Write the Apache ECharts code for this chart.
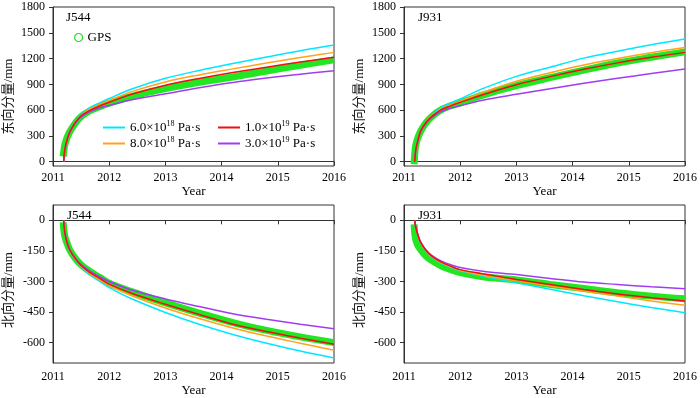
<!DOCTYPE html>
<html><head><meta charset="utf-8">
<script src="https://cdn.jsdelivr.net/npm/echarts@6/dist/echarts.min.js"></script>
<style>html,body{margin:0;padding:0;background:#fff}#c{width:700px;height:398px}</style>
</head><body><div id="c"></div><script>
// ---- data ----
const years = [2011, 2012, 2013, 2014, 2015, 2016];
const eastTicks = [0, 300, 600, 900, 1200, 1500, 1800];
const northTicks = [0, -150, -300, -450, -600];
const stations = ['J544', 'J931'];
const modelNames = ['6.0×10^18 Pa·s', '8.0×10^18 Pa·s', '1.0×10^19 Pa·s', '3.0×10^19 Pa·s'];

const modelTimes = [2011.19, 2011.21, 2011.25, 2011.3, 2011.4, 2011.5, 2011.65, 2011.83, 2012.0, 2012.4, 2013.0, 2013.6, 2014.2, 2014.8, 2015.4, 2016.0];
const gpsTimes = [2011.18, 2011.19, 2011.2, 2011.21, 2011.23, 2011.25, 2011.3, 2011.4, 2011.5, 2011.65, 2011.83, 2012.0, 2012.4, 2013.0, 2013.6, 2014.2, 2014.8, 2015.4, 2016.0];

// J544 east
const j544E_gps    = [60, 110, 160, 195, 240, 280, 350, 450, 525, 590, 640, 680, 760, 850, 925, 985, 1055, 1122, 1185];
const j544E_6e18   = [0, 142, 258, 355, 466, 545, 625, 685, 735, 845, 970, 1062, 1142, 1218, 1292, 1358];
const j544E_8e18   = [0, 141, 256, 352, 463, 540, 612, 665, 712, 815, 928, 1010, 1080, 1148, 1212, 1272];
const j544E_1e19   = [0, 140, 255, 350, 460, 535, 595, 648, 692, 785, 890, 968, 1038, 1100, 1160, 1214];
const j544E_3e19   = [0, 138, 250, 343, 450, 520, 580, 625, 655, 720, 790, 860, 922, 973, 1018, 1059];
// J931 east
const j931E_gps    = [-30, 80, 150, 195, 245, 285, 360, 460, 528, 600, 650, 685, 775, 885, 978, 1065, 1148, 1215, 1278];
const j931E_6e18   = [0, 142, 263, 370, 472, 545, 625, 685, 730, 850, 993, 1100, 1205, 1285, 1360, 1427];
const j931E_8e18   = [0, 141, 262, 368, 468, 537, 610, 662, 705, 805, 935, 1035, 1125, 1200, 1268, 1330];
const j931E_1e19   = [0, 140, 260, 365, 464, 530, 600, 650, 690, 780, 896, 990, 1075, 1150, 1215, 1272];
const j931E_3e19   = [0, 138, 255, 355, 452, 515, 580, 625, 650, 715, 785, 850, 912, 970, 1025, 1078];
// J544 north
const j544N_gps    = [-10, -40, -62, -78, -97, -112, -146, -188, -218, -250, -280, -308, -350, -405, -455, -502, -540, -572, -600];
const j544N_6e18   = [0, -61, -112, -150, -195, -228, -265, -300, -330, -385, -452, -510, -560, -603, -641, -675];
const j544N_8e18   = [0, -60, -111, -149, -193, -225, -260, -292, -320, -370, -430, -482, -528, -568, -603, -637];
const j544N_1e19   = [0, -60, -110, -147, -190, -222, -255, -285, -313, -358, -412, -462, -510, -546, -578, -608];
const j544N_3e19   = [0, -59, -108, -145, -187, -217, -248, -277, -300, -342, -386, -423, -458, -485, -510, -532];
// J931 north
const j931N_gps    = [-20, -60, -80, -95, -112, -125, -145, -178, -198, -222, -242, -257, -277, -293, -315, -335, -355, -372, -385];
const j931N_6e18   = [0, -36, -77, -112, -154, -181, -208, -231, -248, -275, -307, -338, -370, -400, -428, -453];
const j931N_8e18   = [0, -35, -76, -111, -152, -179, -205, -228, -245, -270, -297, -322, -347, -372, -396, -417];
const j931N_1e19   = [0, -35, -75, -110, -151, -177, -203, -225, -242, -262, -290, -315, -340, -362, -380, -396];
const j931N_3e19   = [0, -34, -74, -108, -148, -173, -198, -218, -232, -250, -266, -285, -303, -315, -326, -336];

// ---- styling ----
const SERIF = "'Liberation Serif','Times New Roman','Noto Sans CJK SC',serif";
const modelColors = ['#00e8ff', '#ffa31a', '#ee1111', '#a23cf0'];
const gpsColor = '#22e622';

const panels = [
  {gps: j544E_gps, models: [j544E_6e18, j544E_8e18, j544E_1e19, j544E_3e19], east: true, st: stations[0]},
  {gps: j931E_gps, models: [j931E_6e18, j931E_8e18, j931E_1e19, j931E_3e19], east: true, st: stations[1]},
  {gps: j544N_gps, models: [j544N_6e18, j544N_8e18, j544N_1e19, j544N_3e19], east: false, st: stations[0]},
  {gps: j931N_gps, models: [j931N_6e18, j931N_8e18, j931N_1e19, j931N_3e19], east: false, st: stations[1]}
];
const gridPos = [
  {left: 53, top: 7, width: 281, height: 159},
  {left: 404, top: 7, width: 281, height: 159},
  {left: 53, top: 205, width: 281, height: 158},
  {left: 404, top: 205, width: 281, height: 158}
];
const stationPos = [[66, 11], [418, 11], [67, 209], [418, 209]];

const zip = (t, v) => v.map((y, i) => [t[i], y]);
const plain = v => String(v);

const grid = gridPos.map(g => Object.assign({show: true, borderColor: '#333', borderWidth: 1, containLabel: false}, g));
const xAxis = panels.map((p, i) => ({
  type: 'value', gridIndex: i, min: years[0], max: years[years.length - 1], interval: 1,
  name: 'Year', nameLocation: 'middle', nameGap: i < 2 ? 19 : 21,
  nameTextStyle: {fontFamily: SERIF, fontSize: 13, color: '#000'},
  axisLine: {lineStyle: {color: '#333'}},
  axisTick: {length: 4, lineStyle: {color: '#333'}},
  axisLabel: {fontFamily: SERIF, fontSize: 12, color: '#000', margin: i < 2 ? 6 : 8, formatter: plain},
  splitLine: {show: false}
}));
const yAxis = panels.map((p, i) => {
  const ticks = p.east ? eastTicks : northTicks;
  return {
    type: 'value', gridIndex: i,
    min: p.east ? -50 : -700, max: p.east ? 1800 : 75,
    name: p.east ? '东向分量/mm' : '北向分量/mm',
    nameLocation: 'middle', nameGap: 38, nameRotate: 90,
    nameTextStyle: {fontFamily: SERIF, fontSize: 13, color: '#111', padding: p.east ? [0, 20, 0, 0] : [0, 12, 0, 0]},
    axisLine: {show: true, lineStyle: {color: '#333'}},
    axisTick: {show: true, length: 4, customValues: ticks, lineStyle: {color: '#333'}},
    axisLabel: {fontFamily: SERIF, fontSize: 12, color: '#000', margin: 8, customValues: ticks, formatter: plain},
    splitLine: {show: false}
  };
});

const series = [];
panels.forEach((p, i) => {
  series.push({
    name: 'GPS', type: 'line', xAxisIndex: i, yAxisIndex: i,
    data: zip(gpsTimes, p.gps), smooth: 0.35,
    symbol: 'none', lineStyle: {color: gpsColor, width: 7}, itemStyle: {color: gpsColor}, z: 1
  });
  [0, 1, 3, 2].forEach(k => {
    series.push({
      name: modelNames[k], type: 'line', xAxisIndex: i, yAxisIndex: i,
      data: zip(modelTimes, p.models[k]), smooth: 0.35,
      symbol: 'none', lineStyle: {color: modelColors[k], width: 1.5}, itemStyle: {color: modelColors[k]}, z: 2
    });
  });
});

const supFormatter = name => {
  const m = name.match(/^(.*×10)\^(\d+)(.*)$/);
  return m ? '{a|' + m[1] + '}{s|' + m[2] + '}{a|' + m[3] + '}' : name;
};
const legendText = {
  fontFamily: SERIF, fontSize: 13, color: '#000',
  rich: {
    a: {fontFamily: SERIF, fontSize: 13, color: '#000', lineHeight: 15},
    s: {fontFamily: SERIF, fontSize: 8, color: '#000', lineHeight: 15, verticalAlign: 'top'}
  }
};

const option = {
  animation: false,
  backgroundColor: '#fff',
  grid, xAxis, yAxis, series,
  title: panels.map((p, i) => ({
    text: p.st, left: stationPos[i][0], top: stationPos[i][1], padding: 0,
    textStyle: {fontFamily: SERIF, fontSize: 13, fontWeight: 'normal', color: '#000'}
  })),
  legend: [
    {data: [{name: 'GPS', icon: 'circle', itemStyle: {color: 'rgba(0,0,0,0)', borderColor: '#22dd22', borderWidth: 1.2}}],
     left: 74, top: 31, padding: 0, itemWidth: 8, itemHeight: 8,
     textStyle: {fontFamily: SERIF, fontSize: 13, color: '#000'}, selectedMode: false},
    {data: [modelNames[0], modelNames[1]], orient: 'vertical', left: 103, top: 120, padding: 0, icon: 'rect',
     itemWidth: 22, itemHeight: 2, itemGap: 2, formatter: supFormatter, textStyle: legendText, selectedMode: false},
    {data: [modelNames[2], modelNames[3]], orient: 'vertical', left: 218, top: 120, padding: 0, icon: 'rect',
     itemWidth: 22, itemHeight: 2, itemGap: 2, formatter: supFormatter, textStyle: legendText, selectedMode: false}
  ]
};

const chart = echarts.init(document.getElementById('c'), null, {renderer: 'canvas'});
chart.setOption(option);
</script></body></html>
